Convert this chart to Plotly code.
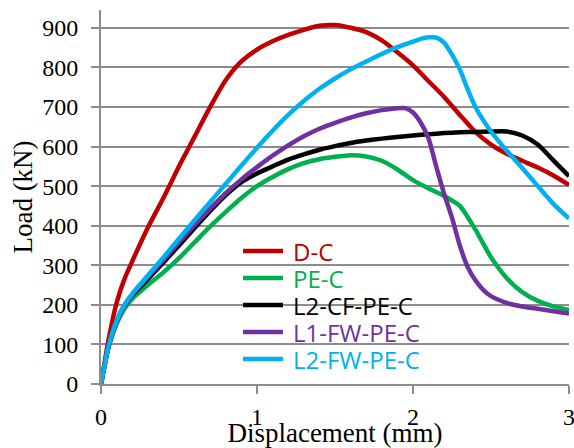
import plotly.graph_objects as go

# ---- data ----
names = ["D-C", "PE-C", "L2-CF-PE-C", "L1-FW-PE-C", "L2-FW-PE-C"]
colors = ["#C00000", "#00B050", "#000000", "#7030A0", "#00B0F0"]

x_dc = [0, 0.05, 0.1, 0.15, 0.2, 0.3, 0.4, 0.5, 0.6, 0.7, 0.8, 0.9, 1.0, 1.1, 1.2, 1.3, 1.4, 1.5,
        1.6, 1.7, 1.8, 1.9, 2.0, 2.1, 2.2, 2.3, 2.4, 2.5, 2.6, 2.7, 2.8, 2.9, 3.0]
y_dc = [0, 115, 205, 265, 310, 395, 470, 550, 625, 700, 768, 815, 845, 866, 882, 895, 905, 907,
        900, 889, 868, 838, 805, 765, 725, 680, 637, 605, 582, 564, 547, 527, 503]

x_pe = [0, 0.05, 0.1, 0.15, 0.2, 0.3, 0.4, 0.5, 0.6, 0.7, 0.8, 0.9, 1.0, 1.1, 1.2, 1.3, 1.4, 1.5,
        1.6, 1.7, 1.8, 1.9, 2.0, 2.1, 2.2, 2.3, 2.4, 2.5, 2.6, 2.7, 2.8, 2.9, 3.0]
y_pe = [0, 95, 152, 190, 215, 250, 282, 318, 358, 398, 435, 470, 500, 523, 543, 558, 568, 574,
        578, 575, 564, 542, 515, 494, 475, 450, 390, 320, 268, 232, 210, 196, 187]

x_cf = [0, 0.05, 0.1, 0.15, 0.2, 0.3, 0.4, 0.5, 0.6, 0.7, 0.8, 0.9, 1.0, 1.1, 1.2, 1.3, 1.4, 1.5,
        1.6, 1.7, 1.8, 1.9, 2.0, 2.1, 2.2, 2.3, 2.4, 2.5, 2.6, 2.7, 2.8, 2.9, 3.0]
y_cf = [0, 98, 158, 198, 224, 265, 307, 350, 394, 437, 477, 510, 532, 550, 567, 580, 592, 601,
        609, 615, 620, 624, 628, 631, 634, 636, 637, 638, 638, 628, 605, 565, 525]

x_l1 = [0, 0.05, 0.1, 0.15, 0.2, 0.3, 0.4, 0.5, 0.6, 0.7, 0.8, 0.9, 1.0, 1.1, 1.2, 1.3, 1.4, 1.5,
        1.6, 1.7, 1.8, 1.9, 1.95, 2.0, 2.05, 2.1, 2.15, 2.2, 2.25, 2.3, 2.35, 2.4, 2.45, 2.5,
        2.6, 2.7, 2.8, 2.9, 3.0]
y_l1 = [0, 98, 158, 198, 226, 270, 313, 358, 402, 443, 482, 517, 548, 577, 603, 626, 645, 660,
        673, 684, 692, 697, 697, 686, 660, 620, 548, 480, 420, 350, 296, 262, 238, 222,
        205, 196, 190, 184, 178]

x_l2 = [0, 0.05, 0.1, 0.15, 0.2, 0.3, 0.4, 0.5, 0.6, 0.7, 0.8, 0.9, 1.0, 1.1, 1.2, 1.3, 1.4, 1.5,
        1.6, 1.7, 1.8, 1.9, 2.0, 2.05, 2.1, 2.15, 2.2, 2.25, 2.3, 2.35, 2.4, 2.5, 2.6, 2.7,
        2.8, 2.9, 3.0]
y_l2 = [0, 98, 160, 200, 228, 274, 320, 367, 414, 460, 506, 552, 597, 640, 680, 715, 746, 772,
        795, 815, 834, 851, 865, 872, 876, 875, 862, 832, 795, 745, 700, 638, 590, 546,
        500, 455, 418]

series_x = [x_dc, x_pe, x_cf, x_l1, x_l2]
series_y = [y_dc, y_pe, y_cf, y_l1, y_l2]

y_ticks = [0, 100, 200, 300, 400, 500, 600, 700, 800, 900]
x_ticks = [0, 1, 2, 3]

GREY = "#8c8c8c"
W, H = 574, 448
ML, MR, MT, MB = 101, 5, 10, 64

fig = go.Figure()
for nm, c, xs, ys in zip(names, colors, series_x, series_y):
    fig.add_trace(go.Scatter(x=xs, y=ys, name=nm, mode="lines",
                             line=dict(color=c, width=4.5, shape="spline", smoothing=0.6),
                             showlegend=False))

# custom legend (Excel-style: 40 px line sample, tight spacing)
pw, ph = W - ML - MR, H - MT - MB
leg_x0, leg_x1, leg_tx = 243, 283, 292
leg_y0, leg_dy = 251, 27
for i, (nm, c) in enumerate(zip(names, colors)):
    py = leg_y0 + i * leg_dy
    yp = (H - MB - py) / ph
    fig.add_shape(type="line", xref="paper", yref="paper",
                  x0=(leg_x0 - ML) / pw, x1=(leg_x1 - ML) / pw, y0=yp, y1=yp,
                  line=dict(color=c, width=4.5))
    fig.add_annotation(xref="paper", yref="paper", x=(leg_tx - ML) / pw, y=yp,
                       xanchor="left", yanchor="middle", text=nm, showarrow=False,
                       height=26, borderpad=0,
                       font=dict(family="Open Sans", size=24, color=c))

fig.update_layout(
    width=W, height=H,
    margin=dict(l=ML, r=MR, t=MT, b=MB, autoexpand=False),
    paper_bgcolor="white", plot_bgcolor="white",
    font=dict(family="Liberation Serif", size=24, color="black"),
    xaxis=dict(range=[0, 3], tickvals=x_ticks, showgrid=False, zeroline=False,
               showline=True, linecolor=GREY, linewidth=2, automargin=False,
               ticks="outside", ticklen=8, tickwidth=2, tickcolor=GREY,
               ticklabelstandoff=2, ticklabeloverflow="allow",
               title=dict(text="Displacement (mm)", font=dict(size=27), standoff=0),
               tickfont=dict(size=24)),
    yaxis=dict(range=[0, 945], tickvals=y_ticks, showgrid=True, gridcolor=GREY, gridwidth=2,
               zeroline=False, showline=True, linecolor=GREY, linewidth=2, automargin=False,
               ticks="outside", ticklen=8, tickwidth=2, tickcolor=GREY,
               ticklabelstandoff=8,
               title=dict(text="Load (kN)", font=dict(size=27), standoff=2),
               tickfont=dict(size=24)),
)

fig.write_html("out.html", config={"displayModeBar": False},
               post_script="document.body.style.margin='0';")
